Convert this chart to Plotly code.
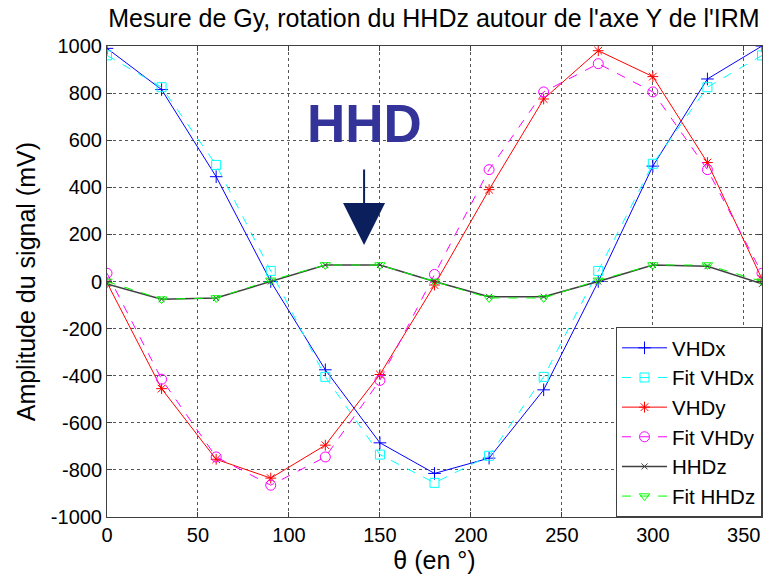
import plotly.graph_objects as go

theta = [0, 30, 60, 90, 120, 150, 180, 210, 240, 270, 300, 330, 360]
vhdx = [990, 815, 445, 0, -375, -685, -815, -750, -460, 0, 490, 860, 1000]
fit_vhdx = [960, 825, 495, 45, -405, -735, -855, -740, -405, 45, 500, 825, 960]
vhdy = [-5, -455, -755, -835, -695, -395, -15, 390, 775, 980, 870, 505, 10]
fit_vhdy = [35, -415, -745, -865, -745, -420, 30, 475, 805, 925, 805, 475, 35]
hhdz = [-10, -75, -70, 0, 70, 70, 0, -65, -65, 0, 70, 65, -10]
fit_hhdz = [0, -75, -70, 5, 70, 70, 0, -70, -70, 5, 70, 70, 0]

x_ticks = [0, 50, 100, 150, 200, 250, 300, 350]
y_ticks = [-1000, -800, -600, -400, -200, 0, 200, 400, 600, 800, 1000]
y_ticklabels = [str(v) for v in y_ticks]

FONT = "Liberation Sans, Arial, sans-serif"

fig = go.Figure()
fig.add_trace(go.Scatter(x=theta, y=vhdx, name="VHDx", mode="lines+markers",
                         line=dict(color="#0000ff", width=1),
                         marker=dict(symbol="cross-thin", size=9, line=dict(color="#0000ff", width=1))))
fig.add_trace(go.Scatter(x=theta, y=fit_vhdx, name="Fit VHDx", mode="lines+markers",
                         line=dict(color="#00ffff", width=1, dash="dash"),
                         marker=dict(symbol="square-open", size=9, color="#00ffff", line=dict(width=1))))
fig.add_trace(go.Scatter(x=theta, y=vhdy, name="VHDy", mode="lines+markers",
                         line=dict(color="#ff0000", width=1),
                         marker=dict(symbol="asterisk-open", size=9, line=dict(color="#ff0000", width=1))))
fig.add_trace(go.Scatter(x=theta, y=fit_vhdy, name="Fit VHDy", mode="lines+markers",
                         line=dict(color="#ff00ff", width=1, dash="dash"),
                         marker=dict(symbol="circle-open", size=10, color="#ff00ff", line=dict(width=1))))
fig.add_trace(go.Scatter(x=theta, y=hhdz, name="HHDz", mode="lines+markers",
                         line=dict(color="#404040", width=1.5),
                         marker=dict(symbol="x-thin", size=6, line=dict(color="#404040", width=1))))
fig.add_trace(go.Scatter(x=theta, y=fit_hhdz, name="Fit HHDz", mode="lines+markers",
                         line=dict(color="#00ff00", width=1, dash="dash"),
                         marker=dict(symbol="triangle-down-open", size=9, color="#00ff00", line=dict(width=1))))

axis_common = dict(showline=True, linecolor="#404040", linewidth=1, mirror="ticks",
                   ticks="inside", ticklen=5, tickcolor="#404040",
                   showgrid=True, gridcolor="#555555", griddash="dot", gridwidth=1,
                   zeroline=False, tickfont=dict(family=FONT, size=20, color="black"))

fig.update_xaxes(range=[0, 360], tickvals=x_ticks,
                 title=dict(text="θ (en °)", font=dict(family=FONT, size=25, color="black"), standoff=4),
                 **axis_common)
fig.update_yaxes(range=[-1000, 1000], tickvals=y_ticks, ticktext=y_ticklabels, **axis_common)

# y-axis title placed as rotated text
fig.add_annotation(x=-0.124, y=0.5, xref="paper", yref="paper", text="Amplitude du signal (mV)",
                   textangle=-90, showarrow=False, xanchor="center", yanchor="middle",
                   font=dict(family=FONT, size=25, color="black"))

fig.add_annotation(x=141.3, y=155, ax=141.3, ay=482, xref="x", yref="y", axref="x", ayref="y",
                   text="", showarrow=True, arrowhead=2, arrowsize=4.2, arrowwidth=2,
                   arrowcolor="#0a1f5c")
fig.add_annotation(x=141.5, y=671, xref="x", yref="y", text="<b>HHD</b>", showarrow=False,
                   font=dict(family=FONT, size=53, color="#333399"), xanchor="center", yanchor="middle")

fig.update_layout(
    width=766, height=576,
    margin=dict(l=107, r=4, t=46, b=59),
    paper_bgcolor="white", plot_bgcolor="white",
    title=dict(text="Mesure de Gy, rotation du HHDz autour de l'axe Y de l'IRM",
               font=dict(family=FONT, size=25, color="black"),
               x=0.5665, xanchor="center", y=0.968, yanchor="middle"),
    legend=dict(x=1, y=0, xanchor="right", yanchor="bottom", bgcolor="white",
                bordercolor="#404040", borderwidth=1, itemwidth=45,
                font=dict(family=FONT, size=20.5, color="black"), tracegroupgap=0),
    showlegend=True,
)

fig.write_html("out.html")
